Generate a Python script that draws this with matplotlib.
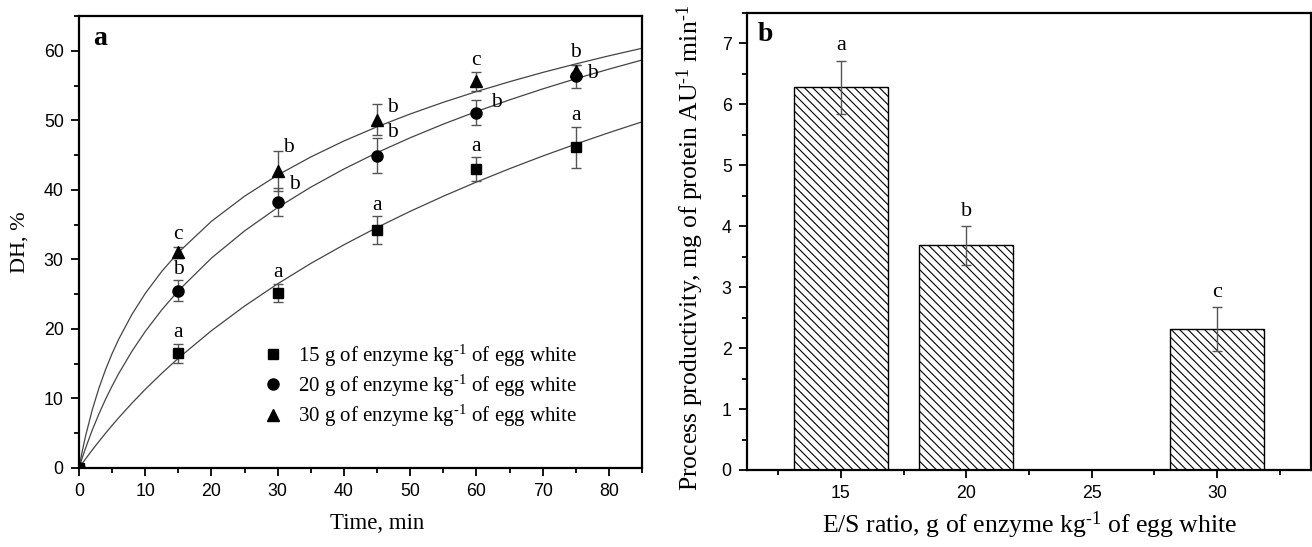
import matplotlib
matplotlib.use('Agg')
import matplotlib.pyplot as plt
from matplotlib.ticker import MultipleLocator

# ---------------- data ----------------
time_min = [0, 15, 30, 45, 60, 75]
dh_15 = [0, 16.5, 25.2, 34.2, 43.0, 46.1]
err_15 = [0, 1.4, 1.3, 2.0, 1.7, 3.0]
dh_20 = [0, 25.5, 38.2, 44.9, 51.1, 56.3]
err_20 = [0, 1.5, 2.0, 2.5, 1.8, 1.7]
dh_30 = [0, 31.0, 42.7, 50.1, 55.6, 57.1]
err_30 = [0, 0.8, 2.9, 2.2, 1.4, 0.9]
letters_15 = ['', 'a', 'a', 'a', 'a', 'a']
letters_20 = ['', 'b', 'b', 'b', 'b', 'b']
letters_30 = ['', 'c', 'b', 'b', 'c', 'b']

# fitted curves
fit_t = [0, 0.5, 1, 2, 3, 4, 5, 6, 8, 10, 12.5, 15, 20, 25, 30, 35, 40, 45,
         50, 55, 60, 65, 70, 75, 80, 85]
fit_15 = [0, 0.67, 1.32, 2.59, 3.81, 4.99, 6.13, 7.23, 9.33, 11.31, 13.62,
          15.79, 19.75, 23.29, 26.49, 29.42, 32.10, 34.59, 36.91, 39.08,
          41.12, 43.04, 44.86, 46.58, 48.22, 49.78]
fit_20 = [0, 1.48, 2.88, 5.45, 7.76, 9.87, 11.80, 13.59, 16.80, 19.63, 22.75,
          25.50, 30.19, 34.10, 37.46, 40.39, 43.00, 45.35, 47.49, 49.45,
          51.26, 52.94, 54.51, 55.98, 57.36, 58.67]
fit_30 = [0, 2.46, 4.64, 8.36, 11.46, 14.13, 16.46, 18.53, 22.10, 25.10,
          28.28, 31.0, 35.48, 39.09, 42.13, 44.73, 47.03, 49.07, 50.91, 52.59,
          54.13, 55.55, 56.88, 58.11, 59.27, 60.36]

SUP = '$^{\u2010' + '1}$'
series_labels = ['15 g of enzyme kg' + SUP + ' of egg white',
                 '20 g of enzyme kg' + SUP + ' of egg white',
                 '30 g of enzyme kg' + SUP + ' of egg white']

es_ratio = [15, 20, 30]
productivity = [6.28, 3.69, 2.32]
productivity_err = [0.44, 0.32, 0.36]
letters_b = ['a', 'b', 'c']

# ---------------- style ----------------
plt.rcParams['font.family'] = ['Liberation Serif', 'DejaVu Serif']
plt.rcParams['mathtext.default'] = 'regular'
plt.rcParams['hatch.linewidth'] = 0.8
plt.rcParams['hatch.color'] = '#2a2a2a'

TICKFONT = 'Liberation Sans'
ERRC = '#555555'

fig = plt.figure(figsize=(13.12, 5.47), dpi=100)
axa = fig.add_axes([79 / 1312, 79 / 547, 563 / 1312, 452 / 547])
axb = fig.add_axes([747 / 1312, 77 / 547, 564 / 1312, 457 / 547])


def style_axes(ax):
    for sp in ax.spines.values():
        sp.set_linewidth(1.6)
    ax.tick_params(which='both', direction='out', top=False, right=False,
                   width=1.3, labelsize=12.8, pad=5)
    ax.tick_params(which='major', length=6)
    ax.tick_params(which='minor', length=3.5)
    for lab in ax.get_xticklabels() + ax.get_yticklabels():
        lab.set_fontfamily(TICKFONT)


# ---------------- panel a ----------------
axa.set_xlim(0, 85)
axa.set_ylim(0, 65)
for fy in (fit_15, fit_20, fit_30):
    axa.plot(fit_t, fy, color='#444444', lw=0.9, zorder=2)

markers = ['s', 'o', '^']
msizes = [7.2, 8.0, 8.6]
handles = []
for dh, er, mk, ms, lab in zip((dh_15, dh_20, dh_30), (err_15, err_20, err_30),
                               markers, msizes, series_labels):
    axa.errorbar(time_min, dh, yerr=er, fmt='none', ecolor=ERRC, elinewidth=1.0,
                 capsize=3.5, capthick=1.0, zorder=3)
    h, = axa.plot(time_min, dh, linestyle='none', marker=mk, markersize=ms,
                  color='black', zorder=4, label=lab)
    handles.append(h)

# significance letters: offsets (points) relative to the top of the error bar
off_15 = [None, (0, 8), (0, 8), (0, 8), (0, 8), (0, 8)]
off_20 = [None, (0, 8), (12, 3), (11, 4), (14.5, -2), (12, -6)]
off_30 = [None, (0, 9), (8, 2.5), (11, -2.5), (0, 8), (0, 9)]
for dh, er, lets, offs in zip((dh_15, dh_20, dh_30), (err_15, err_20, err_30),
                              (letters_15, letters_20, letters_30),
                              (off_15, off_20, off_30)):
    for t, v, e, L, o in zip(time_min, dh, er, lets, offs):
        if not L:
            continue
        axa.annotate(L, (t, v + e), xytext=o, textcoords='offset points',
                     ha='center', va='center', fontsize=15.5, zorder=5)

leg = axa.legend(handles=handles, loc='upper left', bbox_to_anchor=(0.326, 0.278),
                 frameon=False, fontsize=15, handlelength=1.0, handletextpad=0.68,
                 labelspacing=0.2, borderaxespad=0, borderpad=0)

axa.xaxis.set_major_locator(MultipleLocator(10))
axa.xaxis.set_minor_locator(MultipleLocator(5))
axa.yaxis.set_major_locator(MultipleLocator(10))
axa.yaxis.set_minor_locator(MultipleLocator(5))
style_axes(axa)
axa.set_xlabel('Time, min', fontsize=16.5)
axa.set_ylabel('DH, %', fontsize=16)
axa.xaxis.set_label_coords(0.529, -0.122)
axa.xaxis.label.set_va('center')
axa.yaxis.set_label_coords(-0.105, 0.50)
axa.yaxis.label.set_va('center')
axa.text(0.037, 0.951, 'a', transform=axa.transAxes, fontsize=20,
         fontweight='bold', ha='center', va='center')

# ---------------- panel b ----------------
axb.set_xlim(11.25, 33.75)
axb.set_ylim(0, 7.5)
axb.bar(es_ratio, productivity, width=3.75, color='white', edgecolor='black',
        linewidth=1.0, hatch='\\\\\\\\', zorder=2)
axb.errorbar(es_ratio, productivity, yerr=productivity_err, fmt='none',
             ecolor=ERRC, elinewidth=1.0, capsize=3.8, capthick=1.0, zorder=3)
for x, v, e, L in zip(es_ratio, productivity, productivity_err, letters_b):
    axb.annotate(L, (x, v + e), xytext=(0, 10.5), textcoords='offset points',
                 ha='center', va='center', fontsize=16)

axb.xaxis.set_major_locator(MultipleLocator(5))
axb.xaxis.set_minor_locator(MultipleLocator(2.5))
axb.yaxis.set_major_locator(MultipleLocator(1))
axb.yaxis.set_minor_locator(MultipleLocator(0.5))
axb.set_xticks([15, 20, 25, 30])
style_axes(axb)
axb.set_xlabel('E/S ratio, g of enzyme kg' + SUP + ' of egg white', fontsize=18.5)
axb.set_ylabel('Process productivity, mg of protein AU' + SUP + ' min' + SUP,
               fontsize=18.5)
axb.xaxis.set_label_coords(0.502, -0.120)
axb.xaxis.label.set_va('center')
axb.yaxis.set_label_coords(-0.101, 0.485)
axb.yaxis.label.set_va('center')
axb.text(0.032, 0.952, 'b', transform=axb.transAxes, fontsize=20,
         fontweight='bold', ha='center', va='center')

fig.savefig('out.png', dpi=100)
